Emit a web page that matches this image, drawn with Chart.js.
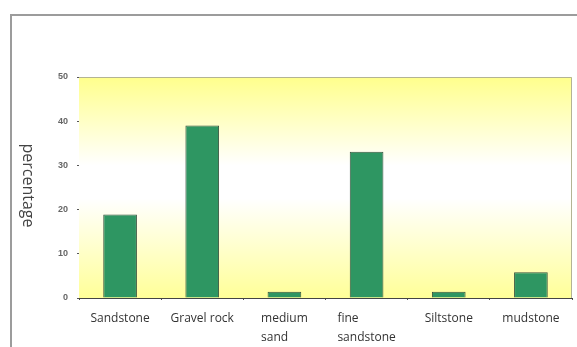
<!DOCTYPE html>
<html>
<head>
<meta charset="utf-8">
<script src="https://cdn.jsdelivr.net/npm/chart.js@4/dist/chart.umd.min.js"></script>
<style>
  html, body { margin: 0; padding: 0; background: #fff; overflow: hidden; }
  #wrap { position: relative; width: 577px; height: 347px; }
  #frame {
    position: absolute; left: 10px; top: 14px; width: 640px; height: 420px;
    border-left: 2px solid #9c9c9c; border-top: 2px solid #9c9c9c;
  }
  canvas { position: absolute; left: 0; top: 0; }
</style>
</head>
<body>
<div id="wrap">
  <div id="frame"></div>
  <canvas id="rockChart" width="577" height="347"></canvas>
</div>
<script>
const categories = ["Sandstone", "Gravel rock", ["medium", "sand"], ["fine", "sandstone"], "Siltstone", "mudstone"];
const percentages = [18.9, 39, 1.4, 33.1, 1.4, 5.8];
const yMin = 0, yMax = 50, yStep = 10;
const yTitle = "percentage";

// yellow-white-yellow fill behind the bars, plus the thin plot frame
const plotBackground = {
  id: "plotBackground",
  beforeDatasetsDraw(chart) {
    const { ctx, chartArea: a } = chart;
    const g = ctx.createLinearGradient(0, a.top, 0, a.bottom);
    g.addColorStop(0, "#ffff8c");
    g.addColorStop(0.4, "#ffffff");
    g.addColorStop(0.55, "#ffffff");
    g.addColorStop(1, "#ffff98");
    ctx.save();
    ctx.fillStyle = g;
    ctx.fillRect(a.left, a.top, a.right - a.left, a.bottom - a.top);
    ctx.strokeStyle = "#b4b494";
    ctx.lineWidth = 1;
    ctx.beginPath();
    ctx.moveTo(a.left, a.top + 0.5);
    ctx.lineTo(a.right - 0.5, a.top + 0.5);
    ctx.lineTo(a.right - 0.5, a.bottom);
    ctx.stroke();
    ctx.restore();
  }
};

// category names (lines left-aligned in a block centred under each bar)
// and the y title, which reads top to bottom
const axisText = {
  id: "axisText",
  afterDraw(chart) {
    const { ctx, chartArea: a } = chart;
    const x = chart.scales.x;
    ctx.save();
    ctx.font = "12px 'Open Sans'";
    ctx.fillStyle = "#333";
    ctx.textAlign = "left";
    ctx.textBaseline = "middle";
    categories.forEach((label, i) => {
      const lines = Array.isArray(label) ? label : [label];
      const w = Math.max(...lines.map(l => ctx.measureText(l).width));
      const left = x.getPixelForValue(i) - w / 2;
      lines.forEach((line, j) => {
        ctx.fillText(line, left, x.top + 21 + j * 19);
      });
    });

    ctx.translate(28, (a.top + a.bottom) / 2 - 2);
    ctx.rotate(Math.PI / 2);
    ctx.font = "16px 'Open Sans'";
    ctx.fillStyle = "#444";
    ctx.textAlign = "center";
    ctx.fillText(yTitle, 0, 0);
    ctx.restore();
  }
};

new Chart(document.getElementById("rockChart"), {
  type: "bar",
  data: {
    labels: categories,
    datasets: [{
      data: percentages,
      backgroundColor: "#2e9662",
      borderColor: "#36523e",
      borderWidth: 1,
      categoryPercentage: 1,
      barPercentage: 0.41
    }]
  },
  options: {
    responsive: false,
    animation: false,
    layout: { padding: { left: 21, top: 77, right: 5, bottom: 0 } },
    plugins: { legend: { display: false }, tooltip: { enabled: false } },
    scales: {
      x: {
        afterFit(scale) { scale.height = 49; },
        ticks: { display: false },
        grid: { drawOnChartArea: false, offset: true, tickLength: 2, color: "#555" },
        border: { color: "#444", width: 1 }
      },
      y: {
        min: yMin,
        max: yMax,
        afterFit(scale) { scale.width = 58; },
        ticks: {
          stepSize: yStep,
          padding: 9,
          color: "#666",
          font: { family: "'Liberation Sans'", size: 9, weight: "bold" }
        },
        grid: { drawOnChartArea: false, tickLength: 2, color: "#555" },
        border: { color: "#444", width: 1 }
      }
    }
  },
  plugins: [plotBackground, axisText]
});
</script>
</body>
</html>
